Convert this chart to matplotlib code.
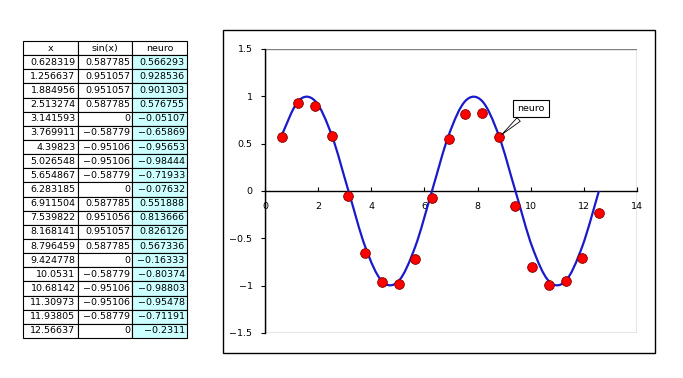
import matplotlib
matplotlib.use("Agg")
import matplotlib.pyplot as plt
from matplotlib.path import Path
from matplotlib.patches import PathPatch, Rectangle

x_vals = [0.628319, 1.256637, 1.884956, 2.513274, 3.141593, 3.769911, 4.39823,
          5.026548, 5.654867, 6.283185, 6.911504, 7.539822, 8.168141, 8.796459,
          9.424778, 10.0531, 10.68142, 11.30973, 11.93805, 12.56637]
sin_vals = [0.587785, 0.951057, 0.951057, 0.587785, 0, -0.58779, -0.95106,
            -0.95106, -0.58779, 0, 0.587785, 0.951056, 0.951057, 0.587785, 0,
            -0.58779, -0.95106, -0.95106, -0.58779, 0]
neuro_vals = [0.566293, 0.928536, 0.901303, 0.576755, -0.05107, -0.65869,
              -0.95653, -0.98444, -0.71933, -0.07632, 0.551888, 0.813666,
              0.826126, 0.567336, -0.16333, -0.80374, -0.98803, -0.95478,
              -0.71191, -0.2311]
x_text = ["0.628319", "1.256637", "1.884956", "2.513274", "3.141593", "3.769911",
          "4.39823", "5.026548", "5.654867", "6.283185", "6.911504", "7.539822",
          "8.168141", "8.796459", "9.424778", "10.0531", "10.68142", "11.30973",
          "11.93805", "12.56637"]
sin_text = ["0.587785", "0.951057", "0.951057", "0.587785", "0", "\u22120.58779",
            "\u22120.95106", "\u22120.95106", "\u22120.58779", "0", "0.587785",
            "0.951056", "0.951057", "0.587785", "0", "\u22120.58779", "\u22120.95106",
            "\u22120.95106", "\u22120.58779", "0"]
neuro_text = ["0.566293", "0.928536", "0.901303", "0.576755", "\u22120.05107",
              "\u22120.65869", "\u22120.95653", "\u22120.98444", "\u22120.71933",
              "\u22120.07632", "0.551888", "0.813666", "0.826126", "0.567336",
              "\u22120.16333", "\u22120.80374", "\u22120.98803", "\u22120.95478",
              "\u22120.71191", "\u22120.2311"]
headers = ["x", "sin(x)", "neuro"]
x_ticks = [0, 2, 4, 6, 8, 10, 12, 14]
y_ticks = [-1.5, -1, -0.5, 0, 0.5, 1, 1.5]
y_tick_labels = ["\u22121.5", "\u22121", "\u22120.5", "0", "0.5", "1", "1.5"]

W, H = 683, 378
fig = plt.figure(figsize=(W / 100, H / 100), dpi=100)
plt.rcParams['font.family'] = ['DejaVu Sans']
FS = 6.8

# ---- table ----
tax = fig.add_axes([23 / W, 1 - 338 / H, 164 / W, 297 / H])
tax.axis('off')
cells = [[a, b, c] for a, b, c in zip(x_text, sin_text, neuro_text)]
tbl = tax.table(cellText=cells, colLabels=headers, bbox=[0, 0, 1, 1],
                cellLoc='right', colLoc='center')
tbl.auto_set_font_size(False)
tbl.set_fontsize(FS)
for (r, c), cell in tbl.get_celld().items():
    cell.set_linewidth(0.8)
    cell.set_edgecolor('black')
    cell.PAD = 0.04
    if r > 0 and c == 2:
        cell.set_facecolor('#ccffff')
    if r == 0:
        cell.get_text().set_ha('center')

# ---- chart outer frame ----
fig.patches.append(Rectangle((223 / W, 1 - 353 / H), 432 / W, 323 / H,
                             transform=fig.transFigure, fill=False,
                             edgecolor='black', linewidth=1.0))

ax = fig.add_axes([265 / W, 1 - 333 / H, 372 / W, 284 / H])
ax.set_xlim(0, 14)
ax.set_ylim(-1.5, 1.5)
for s in ['top', 'right']:
    ax.spines[s].set_visible(False)
ax.spines['bottom'].set_position(('data', 0))
ax.spines['bottom'].set_linewidth(1.0)
ax.spines['left'].set_linewidth(1.0)
ax.add_patch(Rectangle((0, 0), 1, 1, transform=ax.transAxes, fill=False,
                       edgecolor='#808080', linewidth=1.0, zorder=0.5))

ax.set_xticks(x_ticks)
ax.set_xticklabels([str(t) for t in x_ticks])
ax.set_yticks(y_ticks)
ax.set_yticklabels(y_tick_labels)
ax.tick_params(axis='x', direction='in', length=3, width=0.8, pad=8, labelsize=FS)
ax.tick_params(axis='y', direction='out', length=3, width=0.8, pad=6, labelsize=FS)

# smooth curve (Bezier through sin points, like Excel smoothed line)
pts = list(zip(x_vals, sin_vals))
verts = [pts[0]]
codes = [Path.MOVETO]
n = len(pts)
for i in range(n - 1):
    p0 = pts[max(i - 1, 0)]
    p1 = pts[i]
    p2 = pts[i + 1]
    p3 = pts[min(i + 2, n - 1)]
    c1 = (p1[0] + (p2[0] - p0[0]) / 6, p1[1] + (p2[1] - p0[1]) / 6)
    c2 = (p2[0] - (p3[0] - p1[0]) / 6, p2[1] - (p3[1] - p1[1]) / 6)
    verts += [c1, c2, p2]
    codes += [Path.CURVE4] * 3
ax.add_patch(PathPatch(Path(verts, codes), fill=False, edgecolor='#1a1acc',
                       linewidth=1.6, zorder=3))

ax.plot(x_vals, neuro_vals, linestyle='none', marker='o', markersize=7,
        markerfacecolor='#ff0000', markeredgecolor='#800000',
        markeredgewidth=0.6, zorder=4)

ax.annotate('neuro', xy=(x_vals[13], neuro_vals[13]), xytext=(531, 378 - 108.5),
            textcoords='figure pixels', ha='center', va='center', fontsize=FS,
            bbox=dict(boxstyle='square,pad=0.45', fc='white', ec='black', lw=0.8),
            arrowprops=dict(arrowstyle='wedge,tail_width=0.5,shrink_factor=0.5',
                            fc='white', ec='black', lw=0.6, shrinkB=3),
            zorder=5)

fig.savefig('out.png', dpi=100)
